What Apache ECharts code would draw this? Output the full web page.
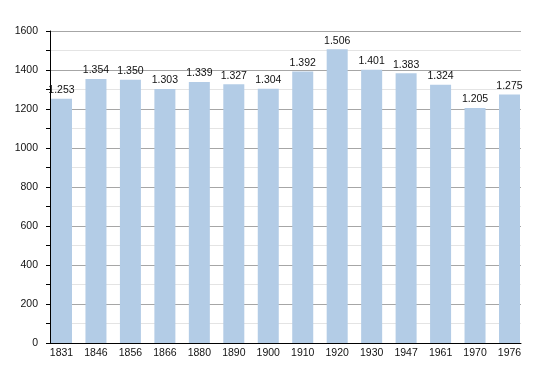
<!DOCTYPE html>
<html>
<head>
<meta charset="utf-8">
<script src="https://cdn.jsdelivr.net/npm/echarts@6/dist/echarts.min.js"></script>
<style>html,body{margin:0;padding:0;background:#fff}#c{width:550px;height:373px}</style>
</head>
<body>
<div id="c"></div>
<script>
var years = ['1831','1846','1856','1866','1880','1890','1900','1910','1920','1930','1947','1961','1970','1976'];
var population = [1253,1354,1350,1303,1339,1327,1304,1392,1506,1401,1383,1324,1205,1275];
var yTicks = [0,200,400,600,800,1000,1200,1400,1600];

var chart = echarts.init(document.getElementById('c'));
var font = 'Liberation Sans, Arial, sans-serif';
chart.setOption({
  animation: false,
  grid: [
    {left: 50, right: 29, top: 31, bottom: 30},
    {left: 44.27, right: 23.27, top: 31, bottom: 30}
  ],
  xAxis: [
    {gridIndex: 0, type: 'category', data: years, boundaryGap: true,
     axisLine: {lineStyle: {color: '#000', width: 1}}, axisTick: {show: false}, axisLabel: {show: false}},
    {gridIndex: 1, type: 'category', data: years, boundaryGap: true,
     axisLine: {show: false}, axisTick: {show: false},
     axisLabel: {color: '#111', fontSize: 10.5, fontFamily: font, margin: 5}}
  ],
  yAxis: [
    {gridIndex: 0, type: 'value', min: yTicks[0], max: yTicks[yTicks.length-1], interval: 100,
     axisLine: {show: true, lineStyle: {color: '#000', width: 1}},
     axisTick: {show: true, length: 4, lineStyle: {color: '#000'}},
     axisLabel: {color: '#111', fontSize: 10.5, fontFamily: font, margin: 12,
       formatter: function(v){ return yTicks.indexOf(v) >= 0 ? String(v) : ''; }},
     splitLine: {show: true, lineStyle: {color: ['#a6a6a6', '#e4e4e4'], width: 1}}},
    {gridIndex: 1, type: 'value', min: yTicks[0], max: yTicks[yTicks.length-1],
     show: false, splitLine: {show: false}}
  ],
  series: [{
    type: 'bar', xAxisIndex: 1, yAxisIndex: 1, data: population, barWidth: 21,
    itemStyle: {color: '#b3cce6'},
    label: {show: true, position: 'top', distance: 3, color: '#111', fontSize: 10.5, fontFamily: font,
      formatter: function(p){ var s = String(p.value); return s.length > 3 ? s.slice(0, s.length-3) + '.' + s.slice(-3) : s; }}
  }]
});
</script>
</body>
</html>
